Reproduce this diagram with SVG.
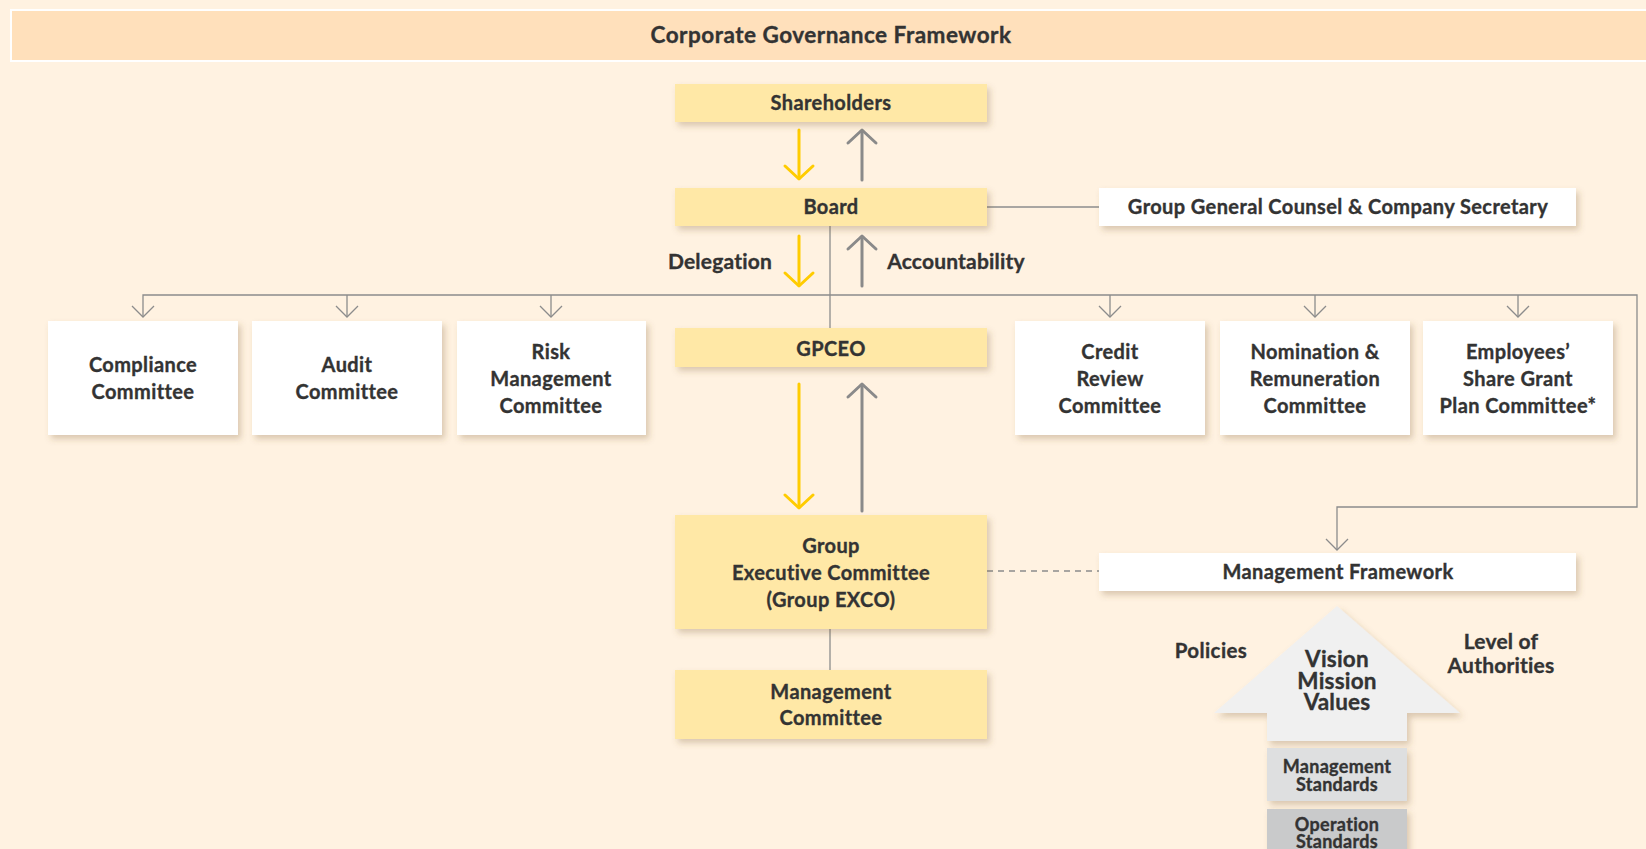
<svg xmlns="http://www.w3.org/2000/svg" width="1646" height="849" viewBox="0 0 1646 849">
<defs>
<style>
text{font-family:Lato,"Liberation Sans",sans-serif;font-weight:700;fill:#333;stroke:#333;stroke-width:0.35;text-anchor:middle}
.y{fill:#ffe8a6}
.w{fill:#ffffff}
.c{stroke:#8c8c8c;stroke-width:1.3;fill:none}
.ya{stroke:#ffcc00;stroke-width:3;fill:none;stroke-linecap:round;stroke-linejoin:round}
.ga{stroke:#8a8a8a;stroke-width:3;fill:none;stroke-linecap:round;stroke-linejoin:round}
.t19{font-size:20px;letter-spacing:0.4px}
.t20{font-size:21px;letter-spacing:0.2px}
.vm{font-size:22.5px;letter-spacing:0.2px}
.ms{font-size:18px;letter-spacing:0.3px}
</style>
<filter id="sh" x="-10%" y="-20%" width="130%" height="160%">
<feDropShadow dx="3" dy="4" stdDeviation="3" flood-color="#7a5a30" flood-opacity="0.28"/>
</filter>
</defs>
<rect x="0" y="0" width="1646" height="849" fill="#fff2e1"/>
<g id="title">
<rect x="11" y="10" width="1640" height="51" fill="#ffe0bb" stroke="#ffffff" stroke-width="2"/>
<text x="831" y="43" style="font-size:22.5px;letter-spacing:0.5px">Corporate Governance Framework</text>
</g>
<g id="connectors">
<line class="c" x1="987" y1="207" x2="1099" y2="207"/>
<line class="c" x1="830" y1="226" x2="830" y2="328"/>
<polyline class="c" points="143,316 143,295 1637,295 1637,507 1337,507 1337,549"/>
<line class="c" x1="347" y1="295" x2="347" y2="316"/>
<line class="c" x1="551" y1="295" x2="551" y2="316"/>
<line class="c" x1="1110" y1="295" x2="1110" y2="316"/>
<line class="c" x1="1315" y1="295" x2="1315" y2="316"/>
<line class="c" x1="1518" y1="295" x2="1518" y2="316"/>
<polyline class="c" points="132,306 143,317 154,306"/>
<polyline class="c" points="336,306 347,317 358,306"/>
<polyline class="c" points="540,306 551,317 562,306"/>
<polyline class="c" points="1099,306 1110,317 1121,306"/>
<polyline class="c" points="1304,306 1315,317 1326,306"/>
<polyline class="c" points="1507,306 1518,317 1529,306"/>
<polyline class="c" points="1326,539 1337,550 1348,539"/>
<line class="c" x1="830" y1="629" x2="830" y2="670"/>
<line x1="987" y1="571" x2="1099" y2="571" stroke="#8c8c8c" stroke-width="1.3" stroke-dasharray="6,5"/>
<line class="ya" x1="799" y1="130" x2="799" y2="178"/>
<polyline class="ya" points="785,166 799,179 813,166"/>
<line class="ga" x1="862" y1="180" x2="862" y2="131"/>
<polyline class="ga" points="848,143 862,130 876,143"/>
<line class="ya" x1="799" y1="236" x2="799" y2="285"/>
<polyline class="ya" points="785,273 799,286 813,273"/>
<line class="ga" x1="862" y1="286" x2="862" y2="237"/>
<polyline class="ga" points="848,249 862,236 876,249"/>
<line class="ya" x1="799" y1="384" x2="799" y2="507"/>
<polyline class="ya" points="785,495 799,508 813,495"/>
<line class="ga" x1="862" y1="511" x2="862" y2="385"/>
<polyline class="ga" points="848,397 862,384 876,397"/>
</g>
<g id="labels">
<text class="t20" x="720" y="269">Delegation</text>
<text class="t20" x="956" y="269">Accountability</text>
</g>
<g id="shareholders">
<rect class="y" x="675" y="84" width="312" height="38" filter="url(#sh)"/>
<text class="t19" x="831" y="110">Shareholders</text>
</g>
<g id="board">
<rect class="y" x="675" y="188" width="312" height="38" filter="url(#sh)"/>
<text class="t19" x="831" y="214">Board</text>
</g>
<g id="counsel">
<rect class="w" x="1099" y="188" width="477" height="38" filter="url(#sh)"/>
<text class="t19" x="1338" y="214">Group General Counsel &amp; Company Secretary</text>
</g>
<g id="gpceo">
<rect class="y" x="675" y="328" width="312" height="39" filter="url(#sh)"/>
<text class="t19" x="831" y="356">GPCEO</text>
</g>
<g id="compliance">
<rect class="w" x="48" y="321" width="190" height="114" filter="url(#sh)"/>
<text class="t19" x="143" y="372">Compliance</text>
<text class="t19" x="143" y="399">Committee</text>
</g>
<g id="audit">
<rect class="w" x="252" y="321" width="190" height="114" filter="url(#sh)"/>
<text class="t19" x="347" y="372">Audit</text>
<text class="t19" x="347" y="399">Committee</text>
</g>
<g id="risk">
<rect class="w" x="457" y="321" width="189" height="114" filter="url(#sh)"/>
<text class="t19" x="551" y="359">Risk</text>
<text class="t19" x="551" y="386">Management</text>
<text class="t19" x="551" y="413">Committee</text>
</g>
<g id="credit">
<rect class="w" x="1015" y="321" width="190" height="114" filter="url(#sh)"/>
<text class="t19" x="1110" y="359">Credit</text>
<text class="t19" x="1110" y="386">Review</text>
<text class="t19" x="1110" y="413">Committee</text>
</g>
<g id="nomination">
<rect class="w" x="1220" y="321" width="190" height="114" filter="url(#sh)"/>
<text class="t19" x="1315" y="359">Nomination &amp;</text>
<text class="t19" x="1315" y="386">Remuneration</text>
<text class="t19" x="1315" y="413">Committee</text>
</g>
<g id="esgp">
<rect class="w" x="1423" y="321" width="190" height="114" filter="url(#sh)"/>
<text class="t19" x="1518" y="359">Employees’</text>
<text class="t19" x="1518" y="386">Share Grant</text>
<text class="t19" x="1518" y="413">Plan Committee*</text>
</g>
<g id="exco">
<rect class="y" x="675" y="515" width="312" height="114" filter="url(#sh)"/>
<text class="t19" x="831" y="553">Group</text>
<text class="t19" x="831" y="580">Executive Committee</text>
<text class="t19" x="831" y="607">(Group EXCO)</text>
</g>
<g id="mgmtcommittee">
<rect class="y" x="675" y="670" width="312" height="69" filter="url(#sh)"/>
<text class="t19" x="831" y="699">Management</text>
<text class="t19" x="831" y="725">Committee</text>
</g>
<g id="mgmtframework">
<rect class="w" x="1099" y="553" width="477" height="38" filter="url(#sh)"/>
<text class="t19" x="1338" y="579">Management Framework</text>
</g>
<g id="vision">
<polygon points="1337,606 1460,713 1407,713 1407,741 1267,741 1267,713 1214,713" fill="#f0f0f0" filter="url(#sh)"/>
<text class="vm" x="1337" y="667">Vision</text>
<text class="vm" x="1337" y="689">Mission</text>
<text class="vm" x="1337" y="710">Values</text>
</g>
<g id="policies">
<text x="1211" y="658" style="font-size:20.5px;letter-spacing:0.4px">Policies</text>
</g>
<g id="loa">
<text class="t20" x="1501" y="649">Level of</text>
<text class="t20" x="1501" y="673">Authorities</text>
</g>
<g id="mgmtstandards">
<rect x="1267" y="748" width="140" height="53" fill="#dedfe0" filter="url(#sh)"/>
<text class="ms" x="1337" y="773">Management</text>
<text class="ms" x="1337" y="791">Standards</text>
</g>
<g id="opstandards">
<rect x="1267" y="809" width="140" height="50" fill="#c9cacb" filter="url(#sh)"/>
<text class="ms" x="1337" y="831">Operation</text>
<text class="ms" x="1337" y="848">Standards</text>
</g>
</svg>
